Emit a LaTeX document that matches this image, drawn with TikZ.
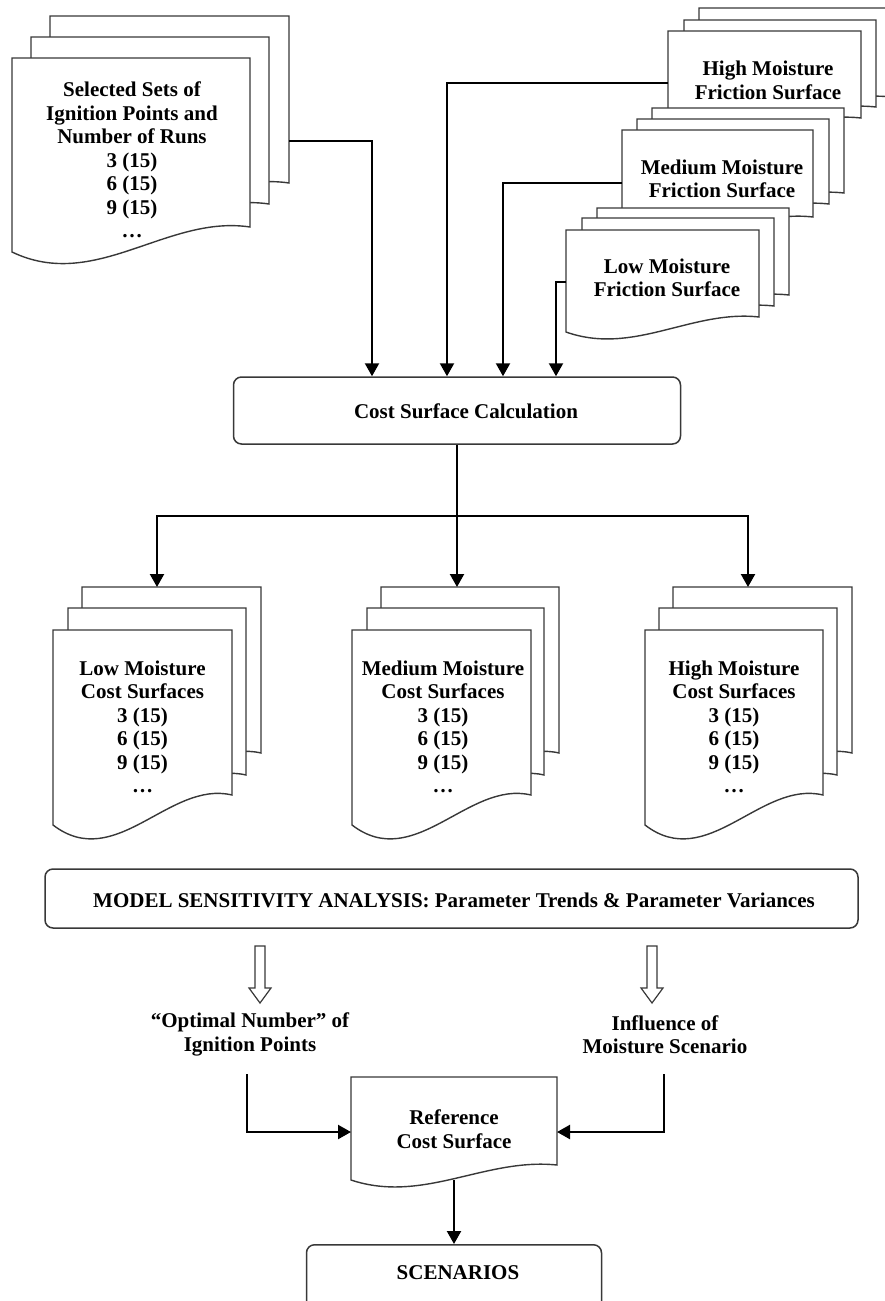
\documentclass[tikz,border=0pt]{standalone}
\usepackage{fontspec}
\setmainfont{Liberation Serif}
\usetikzlibrary{arrows.meta,calc}

\tikzset{
  sheet/.style={draw=black!78, line width=1.4pt, fill=white},
  conn/.style={draw=black, line width=2.2pt, -{Triangle[width=14pt,length=13pt]}},
  trunk/.style={draw=black, line width=2.2pt},
  procbox/.style={draw=black!78, line width=1.5pt, rounded corners=8pt, fill=white},
  txt/.style={font=\bfseries\fontsize{21}{23.5}\selectfont, align=center, inner sep=0pt},
  hollow/.style={draw=black!78, line width=1.2pt, fill=white},
}

% x y w h L  (y downwards)
\newcommand{\docsheet}[5]{%
  \pgfmathsetmacro{\dsXa}{#1}\pgfmathsetmacro{\dsXb}{#1+#3}%
  \pgfmathsetmacro{\dsYa}{#2}\pgfmathsetmacro{\dsYb}{#2+#4}%
  \pgfmathsetmacro{\dsCxa}{#1+0.65*#3}\pgfmathsetmacro{\dsCya}{#2+#4-0.5*#5}%
  \pgfmathsetmacro{\dsCxb}{#1+0.35*#3}\pgfmathsetmacro{\dsCyb}{#2+#4+2.6*#5}%
  \pgfmathsetmacro{\dsYc}{#2+#4+#5}%
  \path[sheet] (\dsXa,\dsYa) -- (\dsXb,\dsYa) -- (\dsXb,\dsYb)
     .. controls (\dsCxa,\dsCya) and (\dsCxb,\dsCyb) .. (\dsXa,\dsYc) -- cycle;
}
% hollow arrow: name of top coordinate, length
\newcommand{\hollowarrow}[2]{%
  \path[hollow] ($(#1)+(-5,0)$) -- ($(#1)+(5,0)$) -- ($(#1)+(5,#2-15)$)
     -- ($(#1)+(11,#2-15)$) -- ($(#1)+(0,#2)$) -- ($(#1)+(-11,#2-15)$)
     -- ($(#1)+(-5,#2-15)$) -- cycle;
}

\begin{document}
\begin{tikzpicture}[x=1pt,y=-1pt]
\useasboundingbox (0,0) rectangle (885,1301);
\clip (0,0) rectangle (885,1301);

% ---------- top-left stack ----------
\docsheet{50}{16}{239}{167}{25}
\docsheet{31}{37}{238}{167}{25}
\docsheet{12}{58}{238}{169}{25}
\node[txt] (sel) at (132,160) {Selected Sets of\\Ignition Points and\\Number of Runs\\3 (15)\\6 (15)\\9 (15)\\…};

% ---------- friction stacks ----------
\docsheet{699}{8}{192}{89}{15}
\docsheet{684}{20}{192}{87}{15}
\docsheet{668}{31}{193}{87}{15}
\node[txt] (hif) at (768,80.5) {High Moisture\\Friction Surface};

\docsheet{652}{108}{192}{85}{15}
\docsheet{637}{119}{192}{85}{15}
\docsheet{622}{130}{191}{87}{15}
\node[txt] (medf) at (722,179) {Medium Moisture\\Friction Surface};

\docsheet{597}{208}{192}{87}{15}
\docsheet{582}{218}{192}{88}{15}
\docsheet{566}{230}{193}{87}{15}
\node[txt] (lowf) at (667,278) {Low Moisture\\Friction Surface};

% ---------- cost surface calculation ----------
\node[procbox, minimum width=447pt, minimum height=67pt] (cost) at (457,410.5) {};
\node[txt] (costtxt) at (466,411) {Cost Surface Calculation};

\coordinate (selout) at (289,141);
\coordinate (hiout) at (668,83);
\coordinate (medout) at (622,183);
\coordinate (lowout) at (566,282);
\draw[conn] (selout) -| ([xshift=-85pt]cost.north);
\draw[conn] (hiout) -| ([xshift=-10pt]cost.north);
\draw[conn] (medout) -| ([xshift=46pt]cost.north);
\draw[conn] (lowout) -| ([xshift=99pt]cost.north);

% ---------- cost surface stacks ----------
\docsheet{82}{587}{179}{166}{30}
\docsheet{68}{608}{178}{167}{30}
\docsheet{53}{630}{179}{165}{30}
\node[txt] (lowc) at (142.5,727) {Low Moisture\\Cost Surfaces\\3 (15)\\6 (15)\\9 (15)\\…};

\docsheet{381}{587}{178}{166}{30}
\docsheet{367}{608}{177}{167}{30}
\docsheet{352}{630}{179}{165}{30}
\node[txt] (medc) at (443,727) {Medium Moisture\\Cost Surfaces\\3 (15)\\6 (15)\\9 (15)\\…};

\docsheet{673}{587}{179}{166}{30}
\docsheet{659}{608}{178}{167}{30}
\docsheet{645}{630}{178}{165}{30}
\node[txt] (highc) at (734,727) {High Moisture\\Cost Surfaces\\3 (15)\\6 (15)\\9 (15)\\…};

\coordinate (hub) at (457,516);
\coordinate (lowtop) at (157,587);
\coordinate (medtop) at (457,587);
\coordinate (hightop) at (748,587);
\draw[trunk] (cost.south) -- (hub);
\draw[conn] (hub) -| (lowtop);
\draw[conn] (hub) -- (medtop);
\draw[conn] (hub) -| (hightop);

% ---------- model sensitivity ----------
\node[procbox, minimum width=813pt, minimum height=59pt] (model) at (451.5,898.5) {};
\node[txt] (modeltxt) at (454,900) {MODEL SENSITIVITY ANALYSIS: Parameter Trends \& Parameter Variances};

\coordinate (ha1) at (260,946);
\coordinate (ha2) at (652,946);
\hollowarrow{ha1}{57}
\hollowarrow{ha2}{57}

\node[txt] (opt) at (250,1034.5) {“Optimal Number” of\\Ignition Points};
\node[txt] (infl) at (665,1034.5) {Influence of\\Moisture Scenario};

% ---------- reference cost surface ----------
\docsheet{351}{1077}{206}{88}{15}
\node[txt] (reftxt) at (454,1129) {Reference\\Cost Surface};
\coordinate (refL) at (351,1132);
\coordinate (refR) at (557,1132);
\coordinate (refB) at (454,1180);
\coordinate (optout) at (247,1074);
\coordinate (inflout) at (664,1074);
\draw[conn] (optout) |- (refL);
\draw[conn] (inflout) |- (refR);

% ---------- scenarios ----------
\node[procbox, minimum width=295pt, minimum height=80pt, anchor=north] (scen) at (454,1244) {};
\node[txt] (scentxt) at (458,1273) {SCENARIOS};
\draw[conn] (refB) -- (scen.north);
\end{tikzpicture}
\end{document}
